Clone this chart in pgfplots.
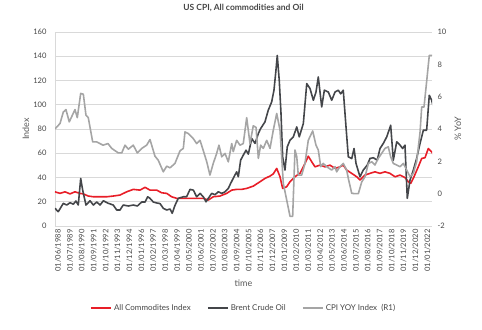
\documentclass[border=0pt]{standalone}
\usepackage{fontspec}
\setmainfont{Lato}
\usepackage{pgfplots}
\pgfplotsset{compat=1.18}
\definecolor{cred}{RGB}{232,30,40}
\definecolor{cdark}{RGB}{68,70,74}
\definecolor{clight}{RGB}{165,165,165}
\definecolor{cgrid}{RGB}{217,217,217}
\definecolor{ctext}{RGB}{70,70,70}

\pgfplotsset{
  base/.style={
    at={(55bp,104bp)}, anchor=south west, scale only axis,
    width=377bp, height=194bp,
    xmin=1988.144, xmax=2022.417,
    major tick length=0pt,
    /pgf/number format/assume math mode=true,
    yticklabel style={font=\fontsize{7.6}{8}\selectfont, text=ctext},
    label style={font=\fontsize{9}{10}\selectfont, text=ctext!90},
  }
}

\begin{document}
\begin{tikzpicture}
\useasboundingbox (0,0) rectangle (482bp,330bp);
\begin{axis}[base,
  ymin=0, ymax=160, ytick={0,20,...,160},
  axis x line*=bottom, axis y line*=left,
  axis line style={-, cgrid, line width=0.8pt},
  ymajorgrids, grid style={cgrid, line width=0.8pt},
  yticklabel style={xshift=-5bp},
  xtick={1988.417,1989.5,1990.583,1991.667,1992.75,1993.833,1994.917,1996.0,1997.083,1998.167,1999.25,2000.333,2001.417,2002.5,2003.583,2004.667,2005.75,2006.833,2007.917,2009.0,2010.083,2011.167,2012.25,2013.333,2014.417,2015.5,2016.583,2017.667,2018.75,2019.833,2020.917,2022.0},
  xticklabels={01/06/1988,01/07/1989,01/08/1990,01/09/1991,01/10/1992,01/11/1993,01/12/1994,01/01/1996,01/02/1997,01/03/1998,01/04/1999,01/05/2000,01/06/2001,01/07/2002,01/08/2003,01/09/2004,01/10/2005,01/11/2006,01/12/2007,01/01/2009,01/02/2010,01/03/2011,01/04/2012,01/05/2013,01/06/2014,01/07/2015,01/08/2016,01/09/2017,01/10/2018,01/11/2019,01/12/2020,01/01/2022},
  xticklabel style={rotate=90, anchor=east, font=\fontsize{7.6}{8}\selectfont, text=ctext},
  ylabel={Index}, ylabel style={at={(axis description cs:-0.077,0.5)}, anchor=center},
  xlabel={time}, xlabel style={at={(axis description cs:0.5,-0.294)}, anchor=center},
  title={US CPI, All commodities and Oil},
  title style={at={(axis description cs:0.5,1.093)}, anchor=center, font=\bfseries\fontsize{8.5}{10}\selectfont, text=ctext},
  legend style={at={(axis description cs:0.5,-0.423)}, anchor=center, draw=none,
    font=\fontsize{8}{9}\selectfont, text=ctext,
    /tikz/every even column/.append style={column sep=14bp}},
  legend columns=3, legend cell align=left,
  legend image code/.code={\draw[#1, line width=2.2pt] (0bp,0bp) -- (20bp,0bp);},
]
\addplot[cred, line width=1.6pt, line join=round] coordinates {
(1988.14,28.2) (1988.60,26.9) (1989.05,28.2) (1989.51,26.5) (1989.96,28.2) (1990.42,26.9) (1990.72,26.5)
(1991.17,24.7) (1991.63,24.1) (1992.24,24.1) (1992.84,24.1) (1993.44,24.7) (1994.05,25.5) (1994.66,28.2)
(1995.26,30.2) (1995.87,29.6) (1996.33,31.9) (1996.78,29.6) (1997.39,29.6) (1997.84,27.4) (1998.30,26.9)
(1998.75,24.1) (1999.21,22.8) (1999.96,22.8) (2000.72,22.8) (2001.33,22.8) (2001.63,22.8) (2002.08,21.4)
(2002.53,24.1) (2003.14,24.7) (2003.75,26.9) (2004.21,29.6) (2004.66,30.2) (2005.11,30.2) (2005.57,31.0)
(2006.17,32.9) (2006.78,36.5) (2007.23,39.2) (2007.69,41.2) (2007.99,43.0) (2008.30,47.5) (2008.60,40.6)
(2008.84,31.0) (2009.21,32.4) (2009.51,36.5) (2009.96,40.6) (2010.26,42.6) (2010.42,43.4) (2010.87,51.6)
(2011.17,57.6) (2011.48,53.0) (2011.78,48.8) (2012.23,50.2) (2012.69,48.8) (2013.14,50.2) (2013.60,47.5)
(2014.05,48.8) (2014.35,50.2) (2014.66,46.1) (2015.12,43.4) (2015.57,40.6) (2015.87,37.9) (2016.33,42.0)
(2016.78,43.4) (2017.23,44.7) (2017.69,43.4) (2018.14,44.7) (2018.60,43.4) (2019.05,40.6) (2019.51,42.0)
(2019.96,40.0) (2020.26,36.5) (2020.48,35.1) (2020.78,40.6) (2021.17,48.8) (2021.48,55.7) (2021.78,56.3)
(2022.08,63.9) (2022.39,61.1) (2022.50,59.3)
};
\addlegendentry{All Commodites Index}
\addplot[cdark, line width=1.6pt, line join=round] coordinates {
(1988.14,14.6) (1988.44,11.8) (1988.90,18.7) (1989.21,17.3) (1989.51,19.2) (1989.81,18.0) (1990.05,20.6)
(1990.26,17.3) (1990.48,39.2) (1990.66,29.6) (1990.96,17.3) (1991.33,20.8) (1991.63,17.3) (1991.94,19.8)
(1992.24,17.3) (1992.54,20.8) (1992.99,18.7) (1993.44,17.3) (1993.75,13.2) (1994.05,13.2) (1994.35,17.3)
(1994.81,16.5) (1995.26,17.3) (1995.63,16.5) (1996.03,19.8) (1996.33,19.8) (1996.57,24.1) (1996.78,22.8)
(1997.08,19.8) (1997.39,19.0) (1997.69,18.5) (1997.99,14.6) (1998.30,13.2) (1998.60,14.0) (1998.80,10.5)
(1999.05,17.0) (1999.35,22.8) (1999.81,24.1) (2000.11,24.1) (2000.42,30.2) (2000.72,29.6) (2001.02,24.1)
(2001.33,26.9) (2001.63,24.1) (2001.87,20.0) (2002.08,22.8) (2002.39,26.9) (2002.69,25.8) (2002.99,28.2)
(2003.30,26.9) (2003.60,28.2) (2003.90,31.0) (2004.11,35.1) (2004.42,40.6) (2004.66,44.7) (2004.81,40.6)
(2005.02,54.3) (2005.26,58.4) (2005.51,62.5) (2005.72,59.3) (2006.03,72.2) (2006.33,68.1) (2006.63,76.3)
(2006.84,80.4) (2007.23,85.8) (2007.53,95.5) (2007.84,102.3) (2008.05,112.0) (2008.23,128.4) (2008.35,140.7)
(2008.53,120.2) (2008.69,92.8) (2008.84,57.0) (2009.05,46.1) (2009.26,65.3) (2009.51,70.8) (2009.81,73.5)
(2010.12,81.7) (2010.35,73.5) (2010.72,84.5) (2011.03,117.4) (2011.33,113.3) (2011.63,103.7) (2011.87,110.5)
(2012.08,122.9) (2012.39,98.2) (2012.63,112.0) (2012.99,110.5) (2013.30,103.7) (2013.60,110.5) (2013.90,112.0)
(2014.12,109.0) (2014.35,112.0) (2014.60,81.7) (2014.81,57.0) (2015.12,55.6) (2015.33,63.9) (2015.51,51.6)
(2015.87,40.6) (2016.17,46.1) (2016.53,50.2) (2016.78,55.7) (2017.08,56.3) (2017.44,54.3) (2017.69,63.9)
(2017.99,68.1) (2018.30,73.5) (2018.51,79.0) (2018.66,83.1) (2018.90,54.3) (2019.21,69.4) (2019.51,66.7)
(2019.75,63.9) (2019.96,66.7) (2020.17,22.8) (2020.42,37.9) (2020.72,46.1) (2021.02,55.7) (2021.33,68.1)
(2021.63,79.0) (2021.93,79.0) (2022.17,107.8) (2022.39,103.7) (2022.50,99.6)
};
\addlegendentry{Brent Crude Oil}
\addlegendimage{clight}
\addlegendentry{CPI YOY Index~ (R1)}
\end{axis}
\begin{axis}[base,
  ymin=-2, ymax=10, ytick={-2,0,...,10},
  axis x line=none, axis y line*=right,
  y axis line style={draw=none},
  yticklabel style={xshift=2bp},
  ylabel={\% YoY}, ylabel style={at={(axis description cs:1.069,0.5)}, anchor=center},
]
\addplot[clight, line width=1.6pt, line join=round] coordinates {
(1988.14,4.0) (1988.60,4.34) (1988.90,5.05) (1989.14,5.2) (1989.44,4.44) (1989.96,5.2) (1990.17,4.7)
(1990.48,6.2) (1990.72,6.15) (1990.96,4.85) (1991.17,4.7) (1991.57,3.2) (1991.94,3.2) (1992.51,3.0)
(1992.96,3.1) (1993.30,2.8) (1993.90,2.52) (1994.21,2.52) (1994.51,3.0) (1994.81,2.75) (1995.26,3.0)
(1995.63,2.52) (1996.03,2.8) (1996.48,3.0) (1996.78,3.35) (1997.23,2.32) (1997.53,2.07) (1997.99,1.35)
(1998.30,1.7) (1998.60,1.6) (1999.05,1.87) (1999.35,2.38) (1999.51,2.65) (1999.81,2.8) (1999.96,3.82)
(2000.26,3.72) (2000.72,3.4) (2001.02,3.1) (2001.33,3.3) (2001.63,2.65) (2001.94,1.97) (2002.23,1.15)
(2002.53,1.87) (2002.84,2.49) (2003.05,3.0) (2003.30,2.28) (2003.60,2.49) (2003.90,1.97) (2004.21,3.1)
(2004.35,2.6) (2004.66,3.3) (2004.96,3.0) (2005.26,3.1) (2005.57,4.7) (2005.87,3.1) (2006.17,4.2)
(2006.42,4.1) (2006.63,2.18) (2006.84,3.0) (2007.08,2.8) (2007.39,3.3) (2007.69,2.8) (2007.99,3.93)
(2008.30,4.96) (2008.60,3.93) (2008.90,0.63) (2009.21,-0.4) (2009.51,-1.4) (2009.75,-1.4) (2009.96,2.7)
(2010.12,2.3) (2010.26,1.15) (2010.57,1.15) (2010.87,1.87) (2011.17,3.3) (2011.57,3.88) (2011.87,3.0)
(2012.08,2.7) (2012.30,1.67) (2012.53,1.87) (2012.84,1.67) (2013.30,1.46) (2013.60,1.67) (2013.75,1.35)
(2014.05,1.67) (2014.35,1.87) (2014.66,1.46) (2014.81,0.94) (2015.12,0.02) (2015.42,0.0) (2015.72,0.0)
(2016.03,0.73) (2016.33,1.05) (2016.63,1.87) (2016.94,1.97) (2017.23,1.77) (2017.53,2.18) (2017.84,2.49)
(2018.14,2.8) (2018.44,2.9) (2018.66,2.28) (2018.90,1.87) (2019.21,1.77) (2019.51,1.67) (2019.81,1.87)
(2020.12,1.46) (2020.42,1.05) (2020.72,1.25) (2021.02,1.97) (2021.33,3.8) (2021.48,5.36) (2021.69,5.36)
(2021.94,7.0) (2022.17,8.55) (2022.50,8.55)
};
\end{axis}
\end{tikzpicture}
\end{document}
